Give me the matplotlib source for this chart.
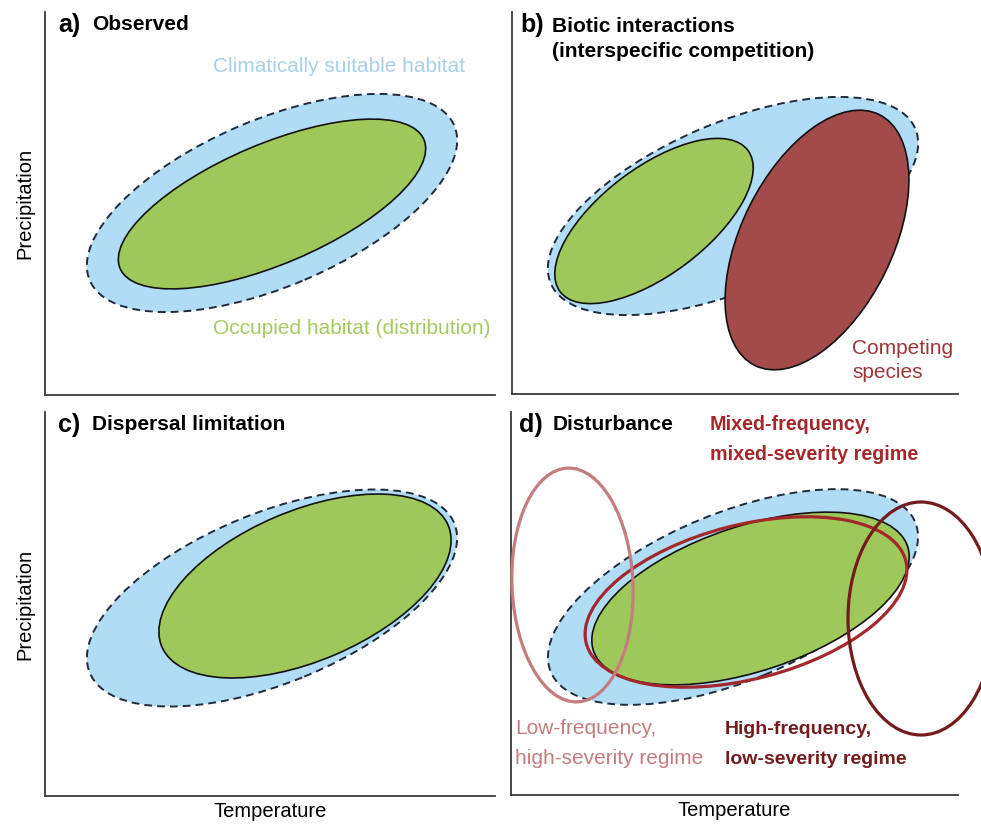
import matplotlib
matplotlib.use("Agg")
import matplotlib.pyplot as plt
from matplotlib.patches import Ellipse

plt.rcParams['font.family'] = ['Liberation Sans', 'DejaVu Sans']

W, H = 981, 826

# ---- data (ellipse parameters in axes-pixel units: cx, cy, width, height, angle) ----
panels = ['a', 'b', 'c', 'd']
titles = ['Observed', 'Biotic interactions\n(interspecific competition)',
          'Dispersal limitation', 'Disturbance']

suitable_cx = [227, 221, 227, 222]
suitable_cy = [192, 188, 198, 198]
suitable_w = [396, 396, 394, 394]
suitable_h = [167, 167, 170, 168]
suitable_angle = [23, 23, 22.3, 22.3]

occupied_cx = [227, 142, 260, 239.5]
occupied_cy = [191, 173, 210, 196.5]
occupied_w = [330, 235, 311, 331]
occupied_h = [120, 107, 150, 145]
occupied_angle = [23, 37, 23, 18.4]

competitor = dict(cx=305, cy=154, w=280, h=151, angle=63.6)

regime_names = ['Mixed-frequency,\nmixed-severity regime',
                'Low-frequency,\nhigh-severity regime',
                'High-frequency,\nlow-severity regime']
regime_cx = [235, 61.5, 410]
regime_cy = [193, 210, 176.5]
regime_w = [330, 121, 146]
regime_h = [154, 234, 233]
regime_angle = [14.5, 2.5, 0]
regime_colors = ['#a3282b', '#c47c7d', '#741b1e']
regime_weight = ['bold', 'normal', 'bold']
regime_size = [14.2, 15, 14]
regime_text_xy = [(199, 370), (4, 66), (214, 66)]

# axes boxes in pixels: left, top, right, bottom
boxes = [(45, 12, 495, 395), (512, 12, 958, 394),
         (45, 412, 495, 796), (511, 412, 958, 795)]

BLUE = '#b1dcf6'
GREEN = '#9fc85a'
RED = '#a34b4a'
DASH = '#1f2b3a'

fig = plt.figure(figsize=(W / 100, H / 100), dpi=100)

axes = []
for i, (l, t, r, b) in enumerate(boxes):
    ax = fig.add_axes([l / W, (H - b) / H, (r - l) / W, (b - t) / H])
    ax.set_xlim(0, r - l)
    ax.set_ylim(0, b - t)
    ax.set_xticks([])
    ax.set_yticks([])
    for s in ['top', 'right']:
        ax.spines[s].set_visible(False)
    for s in ['left', 'bottom']:
        ax.spines[s].set_color('#3a3a3a')
        ax.spines[s].set_linewidth(1.3)
    axes.append(ax)

    top = b - t
    # suitable habitat (dashed)
    ax.add_patch(Ellipse((suitable_cx[i], suitable_cy[i]), suitable_w[i], suitable_h[i],
                         angle=suitable_angle[i], facecolor=BLUE, edgecolor=DASH,
                         linewidth=1.4, linestyle=(0, (4, 2.6)), zorder=1))
    # occupied habitat
    ax.add_patch(Ellipse((occupied_cx[i], occupied_cy[i]), occupied_w[i], occupied_h[i],
                         angle=occupied_angle[i], facecolor=GREEN, edgecolor='#111111',
                         linewidth=1.2, zorder=2))

    # panel title
    ax.text(13 if i in (0, 2) else 8, top - 25 + 12, panels[i] + ')', fontsize=18,
            fontweight='bold', va='center', ha='left', zorder=5)
    tx = 47 if i in (0, 2) else (40 if i == 1 else 42)
    lines = titles[i].split('\n')
    for k, line in enumerate(lines):
        ax.text(tx, top - 25 + 12 - 27 * k - (2 if i == 1 and k == 0 else 0), line,
                fontsize=15, fontweight='bold', va='center', ha='left', zorder=5)

# panel a labels
axes[0].text(168, 328, 'Climatically suitable habitat', fontsize=15, color='#a8d0ea',
             va='center', ha='left')
axes[0].text(168, 67, 'Occupied habitat (distribution)', fontsize=15, color='#a5cb60',
             va='center', ha='left')

# panel b competitor
axb = axes[1]
axb.add_patch(Ellipse((competitor['cx'], competitor['cy']), competitor['w'], competitor['h'],
                      angle=competitor['angle'], facecolor=RED, edgecolor='#111111',
                      linewidth=1.2, zorder=3))
for k, line in enumerate(['Competing', 'species']):
    axb.text(340, 46 - 25 * k, line, fontsize=15, color='#a0353a', va='center', ha='left')

# panel d regimes
axd = axes[3]
for j in range(3):
    axd.add_patch(Ellipse((regime_cx[j], regime_cy[j]), regime_w[j], regime_h[j],
                          angle=regime_angle[j], facecolor='none', edgecolor=regime_colors[j],
                          linewidth=2.3, zorder=4, clip_on=False))
    x0, y0 = regime_text_xy[j]
    for k, line in enumerate(regime_names[j].split('\n')):
        axd.text(x0, y0 - 30 * k, line, fontsize=regime_size[j], color=regime_colors[j],
                 fontweight=regime_weight[j], va='center', ha='left', zorder=5)

# axis labels
for i in (0, 2):
    axes[i].set_ylabel('Precipitation', fontsize=14.5, labelpad=8)
for i in (2, 3):
    axes[i].set_xlabel('Temperature', fontsize=14.5, labelpad=4)

fig.savefig('out.png', dpi=100)
